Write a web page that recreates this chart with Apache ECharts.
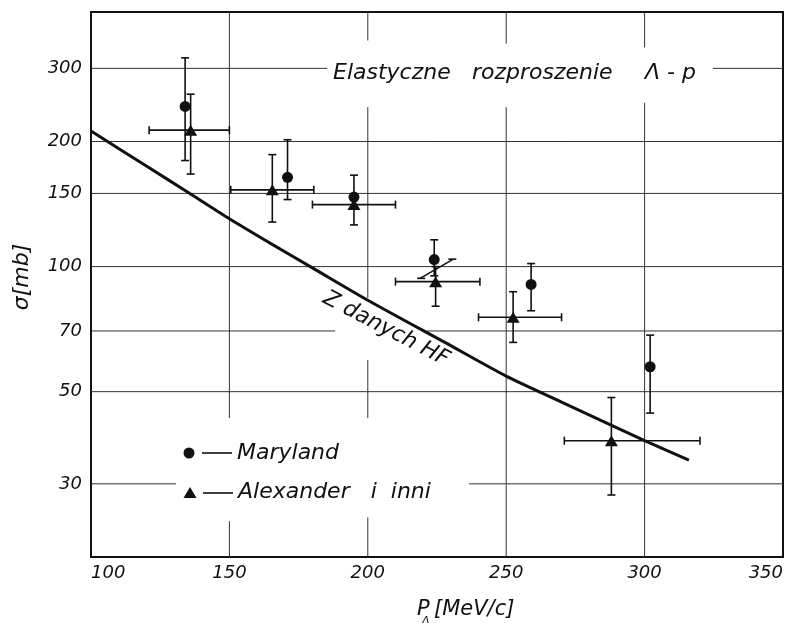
<!DOCTYPE html>
<html><head><meta charset="utf-8">
<script src="https://cdn.jsdelivr.net/npm/echarts@6/dist/echarts.min.js"></script>
<style>html,body{margin:0;padding:0;background:#fff}#c{width:786px;height:623px}</style>
</head><body><div id="c"></div>
<script>
// ---- data ----
const xTicks = [100, 150, 200, 250, 300, 350];
const yTicks = [30, 50, 70, 100, 150, 200, 300];

const marylandP     = [134, 171, 195, 224, 259, 302];
const marylandSigma = [243, 164, 147, 104, 90.6, 57.4];
const marylandLow   = [180, 145, null, 95, 78.3, 44.4];
const marylandHigh  = [318, 202, null, 116, 101.7, 68.4];

const alexP     = [136, 165.5, 195, 224.5, 252.5, 288];
const alexPLow  = [121, 150.5, 180, 210, 240, 271];
const alexPHigh = [150, 180.5, 210, 240.5, 270, 320];
const alexSigma = [213, 153, 141, 92, 75.5, 38.1];
const alexLow   = [167, 128, 126, 80.3, 65.7, 28.2];
const alexHigh  = [260, 186, 166, 100, 87, 48.4];

const hfP     = [100, 120, 135, 150, 165, 180, 200, 228, 250, 270, 284, 300, 316];
const hfSigma = [212, 174.6, 151, 130.4, 113.6, 99.3, 83, 65.6, 54.5, 47.2, 42.7, 38.1, 34.2];

// slanted error mark near 225 MeV/c
const slashMark = [[218.9, 93.7, 230.9, 104.2]];

// gridline pieces (value, from, to) – the original grid is broken around the lettering
const hGrid = [[300,100,185.3],[300,324.7,350],[200,100,350],[150,100,350],[100,100,350],
               [70,100,188.2],[70,221.4,350],[50,100,350],[30,100,130.7],[30,236.6,350]];
const vGrid = [[150,410,43.2],[150,24.4,20],[200,410,350],[200,242,84],[200,59.6,43.2],[200,24.9,20],
               [250,410,344],[250,242,20],[300,410,337],[300,248,20]];

// ---- build ----
const nz = v => (v == null ? NaN : v);
const black = '#111';
const chart = echarts.init(document.getElementById('c'));

function segRender(params, api) {
  const a = api.coord([api.value(0), api.value(1)]);
  const b = api.coord([api.value(2), api.value(3)]);
  return {type: 'line', shape: {x1: a[0], y1: a[1], x2: b[0], y2: b[1]},
          style: {stroke: '#333', lineWidth: 1}};
}
function errRender(params, api) {
  const x = api.value(0);
  const lo = api.value(2), hi = api.value(3), xl = api.value(4), xh = api.value(5);
  const y = api.value(1);
  const st = {stroke: black, lineWidth: 1.6};
  const cap = 4;
  const ch = [];
  if (isFinite(lo) && isFinite(hi)) {
    const a = api.coord([x, lo]), b = api.coord([x, hi]);
    ch.push({type: 'line', shape: {x1: a[0], y1: a[1], x2: b[0], y2: b[1]}, style: st});
    ch.push({type: 'line', shape: {x1: a[0]-cap, y1: a[1], x2: a[0]+cap, y2: a[1]}, style: st});
    ch.push({type: 'line', shape: {x1: b[0]-cap, y1: b[1], x2: b[0]+cap, y2: b[1]}, style: st});
  }
  if (isFinite(xl) && isFinite(xh)) {
    const a = api.coord([xl, y]), b = api.coord([xh, y]);
    ch.push({type: 'line', shape: {x1: a[0], y1: a[1], x2: b[0], y2: b[1]}, style: st});
    ch.push({type: 'line', shape: {x1: a[0], y1: a[1]-cap, x2: a[0], y2: a[1]+cap}, style: st});
    ch.push({type: 'line', shape: {x1: b[0], y1: b[1]-cap, x2: b[0], y2: b[1]+cap}, style: st});
  }
  return {type: 'group', children: ch};
}
function slashRender(params, api) {
  const a = api.coord([api.value(0), api.value(1)]);
  const b = api.coord([api.value(2), api.value(3)]);
  const st = {stroke: black, lineWidth: 1.6};
  return {type: 'group', children: [
    {type: 'line', shape: {x1: a[0], y1: a[1], x2: b[0], y2: b[1]}, style: st},
    {type: 'line', shape: {x1: a[0]-3, y1: a[1], x2: a[0]+5, y2: a[1]}, style: st},
    {type: 'line', shape: {x1: b[0]-5, y1: b[1], x2: b[0]+3, y2: b[1]}, style: st}
  ]};
}

const gridData = hGrid.map(g => [g[1], g[0], g[2], g[0]])
  .concat(vGrid.map(g => [g[0], g[1], g[0], g[2]]));
const marylandData = marylandP.map((p, i) => [p, marylandSigma[i], nz(marylandLow[i]), nz(marylandHigh[i]), NaN, NaN]);
const alexData = alexP.map((p, i) => [p, alexSigma[i], alexLow[i], alexHigh[i], alexPLow[i], alexPHigh[i]]);

const FONT = '"DejaVu Sans", sans-serif';
const labelStyle = {fontFamily: FONT, fontStyle: 'italic', fontSize: 18, color: black};

chart.setOption({
  animation: false,
  backgroundColor: '#fff',
  grid: {left: 91, right: 3, top: 12, bottom: 66, show: true, borderColor: black, borderWidth: 2},
  xAxis: {
    type: 'value', min: xTicks[0], max: xTicks[xTicks.length-1], interval: 50,
    axisLine: {show: true, lineStyle: {color: black, width: 2}},
    axisTick: {show: false}, splitLine: {show: false},
    axisLabel: Object.assign({margin: 7, alignMinLabel: 'left', alignMaxLabel: 'right'}, labelStyle)
  },
  yAxis: {
    type: 'log', logBase: 10, min: 20, max: 410,
    axisLine: {show: true, lineStyle: {color: black, width: 2}},
    axisTick: {show: false}, splitLine: {show: false}, minorTick: {show: false}, minorSplitLine: {show: false},
    axisLabel: Object.assign({margin: 9, customValues: yTicks, showMinLabel: true, showMaxLabel: true}, labelStyle)
  },
  series: [
    {type: 'custom', name: 'grid', renderItem: segRender, data: gridData, silent: true, clip: false,
     dimensions: ['x1','y1','x2','y2'], encode: {x: [0, 2], y: [1, 3]}, z: 1},
    {type: 'line', name: 'Z danych HF', data: hfP.map((p, i) => [p, hfSigma[i]]), smooth: 0.25,
     showSymbol: false, symbol: 'none', lineStyle: {color: black, width: 3}, z: 3},
    {type: 'custom', name: 'Maryland err', renderItem: errRender, data: marylandData, clip: false,
     dimensions: ['p','s','lo','hi','pl','ph'], encode: {x: 0, y: 1}, z: 4},
    {type: 'custom', name: 'Alexander err', renderItem: errRender, data: alexData, clip: false,
     dimensions: ['p','s','lo','hi','pl','ph'], encode: {x: 0, y: 1}, z: 4},
    {type: 'custom', name: 'slash', renderItem: slashRender, data: slashMark, clip: false,
     dimensions: ['x1','y1','x2','y2'], encode: {x: [0, 2], y: [1, 3]}, z: 4},
    {type: 'scatter', name: 'Maryland', data: marylandP.map((p, i) => [p, marylandSigma[i]]),
     symbol: 'circle', symbolSize: 11, itemStyle: {color: black, opacity: 1}, z: 5},
    {type: 'scatter', name: 'Alexander i inni', data: alexP.map((p, i) => [p, alexSigma[i]]),
     symbol: 'triangle', symbolSize: [13, 11], itemStyle: {color: black, opacity: 1}, z: 5}
  ],
  graphic: [
    {type: 'text', left: 333, top: 62, z: 10, style: {text: 'Elastyczne', font: 'italic 22px "DejaVu Sans"', fill: black}},
    {type: 'text', left: 472, top: 62, z: 10, style: {text: 'rozproszenie', font: 'italic 22px "DejaVu Sans"', fill: black}},
    {type: 'text', left: 645, top: 62, z: 10, style: {text: 'Λ - p', font: 'italic 22px "DejaVu Sans"', fill: black}},
    {type: 'text', x: 386, y: 329, rotation: -0.48, z: 10,
     style: {text: 'Z danych HF', font: 'italic 22px "DejaVu Sans"', fill: black, align: 'center', verticalAlign: 'middle'}},
    {type: 'circle', shape: {cx: 189, cy: 453, r: 5.5}, style: {fill: black}, z: 10},
    {type: 'line', shape: {x1: 202, y1: 453, x2: 232, y2: 453}, style: {stroke: black, lineWidth: 1.6}, z: 10},
    {type: 'text', x: 237, y: 453, z: 10, style: {text: 'Maryland', font: 'italic 22px "DejaVu Sans"', fill: black, verticalAlign: 'middle'}},
    {type: 'polygon', shape: {points: [[183.5, 498], [196.5, 498], [190, 487]]}, style: {fill: black}, z: 10},
    {type: 'line', shape: {x1: 203, y1: 493, x2: 233, y2: 493}, style: {stroke: black, lineWidth: 1.6}, z: 10},
    {type: 'text', x: 238, y: 492, z: 10, style: {text: 'Alexander   i  inni', font: 'italic 22px "DejaVu Sans"', fill: black, verticalAlign: 'middle'}},
    {type: 'text', x: 22, y: 277, rotation: Math.PI / 2, z: 10,
     style: {text: 'σ[mb]', font: 'italic 22px "DejaVu Sans"', fill: black, align: 'center', verticalAlign: 'middle'}},
    {type: 'text', x: 417, y: 610, z: 10, style: {text: 'P', font: 'italic 21px "DejaVu Sans"', fill: black, verticalAlign: 'middle'}},
    {type: 'text', x: 422, y: 621, z: 10, style: {text: 'Λ', font: 'italic 11px "DejaVu Sans"', fill: black, verticalAlign: 'middle'}},
    {type: 'text', x: 434, y: 610, z: 10, style: {text: '[MeV/c]', font: 'italic 21px "DejaVu Sans"', fill: black, verticalAlign: 'middle'}}
  ]
});
</script>
</body></html>
